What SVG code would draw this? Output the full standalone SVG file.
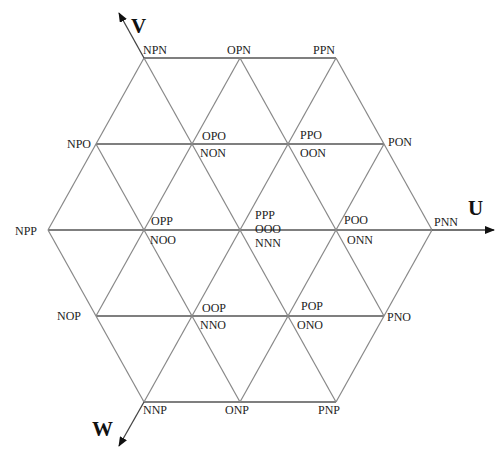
<svg xmlns="http://www.w3.org/2000/svg" width="501" height="461" viewBox="0 0 501 461">
<style>
.h{stroke:#555;stroke-width:1.5;fill:none}
.d{stroke:#888;stroke-width:1.2;fill:none}
.ax{stroke:#444;stroke-width:1.3;fill:none}
.lb{font-family:"Liberation Serif",serif;font-size:12px;fill:#222}
.al{font-family:"Liberation Serif",serif;font-size:21px;font-weight:bold;fill:#111}
</style>
<defs>
<marker id="arr" viewBox="0 0 10 8" refX="9" refY="4" markerWidth="10" markerHeight="8" markerUnits="userSpaceOnUse" orient="auto">
<path d="M0,0 L10,4 L0,8 Z" fill="#111"/>
</marker>
</defs>
<rect width="501" height="461" fill="#fff"/>
<g id="connectors">
<line class="h" x1="144" y1="58" x2="336" y2="58"/>
<line class="h" x1="96" y1="144" x2="384" y2="144"/>
<line class="h" x1="48" y1="230" x2="432" y2="230"/>
<line class="h" x1="96" y1="316" x2="384" y2="316"/>
<line class="h" x1="144" y1="402" x2="336" y2="402"/>
<line class="d" x1="48" y1="230" x2="144" y2="58"/>
<line class="d" x1="96" y1="316" x2="240" y2="58"/>
<line class="d" x1="144" y1="402" x2="336" y2="58"/>
<line class="d" x1="240" y1="402" x2="384" y2="144"/>
<line class="d" x1="336" y1="402" x2="432" y2="230"/>
<line class="d" x1="48" y1="230" x2="144" y2="402"/>
<line class="d" x1="96" y1="144" x2="240" y2="402"/>
<line class="d" x1="144" y1="58" x2="336" y2="402"/>
<line class="d" x1="240" y1="58" x2="384" y2="316"/>
<line class="d" x1="336" y1="58" x2="432" y2="230"/>
<line class="ax" x1="432" y1="230" x2="494" y2="230" marker-end="url(#arr)"/>
<line class="ax" x1="144" y1="58" x2="119" y2="13" marker-end="url(#arr)"/>
<line class="ax" x1="144" y1="402" x2="119" y2="446" marker-end="url(#arr)"/>
</g>
<g id="axis-U"><text class="al" x="468" y="215">U</text></g>
<g id="axis-V"><text class="al" x="131" y="33">V</text></g>
<g id="axis-W"><text class="al" x="92" y="436">W</text></g>
<g id="node-NPN"><text class="lb" x="143" y="54">NPN</text></g>
<g id="node-OPN"><text class="lb" x="239" y="54" text-anchor="middle">OPN</text></g>
<g id="node-PPN"><text class="lb" x="313" y="54">PPN</text></g>
<g id="node-NPO"><text class="lb" x="91" y="148" text-anchor="end">NPO</text></g>
<g id="node-OPO"><text class="lb" x="202" y="140">OPO</text><text class="lb" x="200" y="157">NON</text></g>
<g id="node-PPO"><text class="lb" x="300" y="139">PPO</text><text class="lb" x="300" y="157">OON</text></g>
<g id="node-PON"><text class="lb" x="388" y="146">PON</text></g>
<g id="node-NPP"><text class="lb" x="15" y="235">NPP</text></g>
<g id="node-OPP"><text class="lb" x="151" y="225">OPP</text><text class="lb" x="150" y="244">NOO</text></g>
<g id="node-PPP"><text class="lb" x="255" y="219">PPP</text><text class="lb" x="255" y="233">OOO</text><text class="lb" x="255" y="247">NNN</text></g>
<g id="node-POO"><text class="lb" x="344" y="224">POO</text><text class="lb" x="347" y="244">ONN</text></g>
<g id="node-PNN"><text class="lb" x="434" y="226">PNN</text></g>
<g id="node-NOP"><text class="lb" x="57" y="320">NOP</text></g>
<g id="node-OOP"><text class="lb" x="202" y="312">OOP</text><text class="lb" x="200" y="329">NNO</text></g>
<g id="node-POP"><text class="lb" x="301" y="310">POP</text><text class="lb" x="297" y="329">ONO</text></g>
<g id="node-PNO"><text class="lb" x="387" y="321">PNO</text></g>
<g id="node-NNP"><text class="lb" x="143" y="414">NNP</text></g>
<g id="node-ONP"><text class="lb" x="225" y="414">ONP</text></g>
<g id="node-PNP"><text class="lb" x="318" y="414">PNP</text></g>
</svg>
